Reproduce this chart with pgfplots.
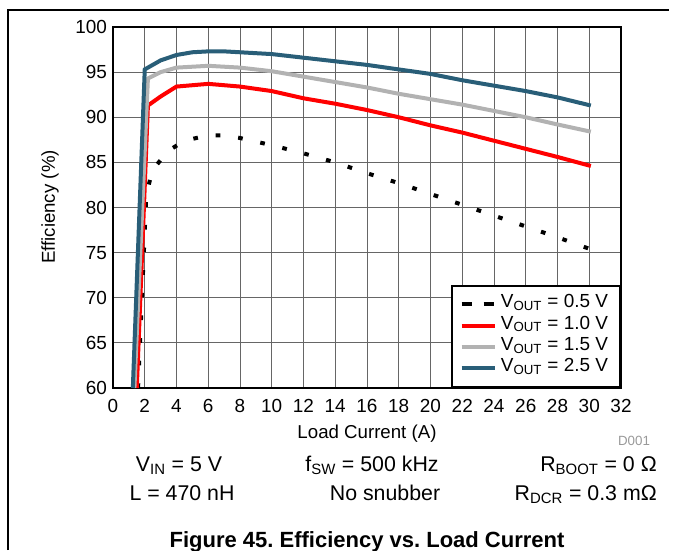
\documentclass[border=0pt]{standalone}
\usepackage{fontspec}
\setmainfont{Liberation Sans}
\usepackage{pgfplots}
\pgfplotsset{compat=1.18}
\definecolor{vblue}{RGB}{41,94,120}
\definecolor{vgray}{RGB}{178,178,178}
\definecolor{vred}{RGB}{255,0,0}
\newcommand{\fs}[1]{\fontsize{#1}{#1}\selectfont}
\frenchspacing
\begin{document}
\begin{tikzpicture}
\begin{axis}[
  at={(0pt,0pt)}, anchor=south west,
  scale only axis, width=381pt, height=270.75pt,
  xmin=0, xmax=32, ymin=60, ymax=100,
  xtick={0,2,...,32}, ytick={60,65,...,100},
  grid=major, major grid style={black!60, line width=0.7pt},
  major tick length=0pt,
  axis line style={line width=2.2pt},
  tick label style={font=\fs{14.2}},
  /pgf/number format/assume math mode=true,
  xticklabel style={yshift=-5pt},
  yticklabel style={xshift=-1pt},
  legend cell align=left,
  legend style={at={(rel axis cs:1,0)}, anchor=south east, draw=black, line width=1.5pt,
    font=\fs{14.2}, inner xsep=6pt, inner ysep=6pt, row sep=0pt,
    nodes={inner xsep=3pt, inner ysep=0pt, text height=10.5pt, text depth=5.5pt}},
]
\addplot[black, line width=3pt, dash pattern=on 3.5pt off 13.5pt,
  legend image code/.code={\draw[black, line width=3pt, dash pattern=on 8pt off 8.5pt] (0pt,0pt) -- (25pt,0pt);}]
  coordinates {(1.58,60) (2.1,81.5) (2.5,84.2) (3.5,86.3) (4.5,87.4) (6,88.0) (7,88.0) (8,87.7) (10,86.9) (12,86.0) (14,85.0) (16,83.8) (18,82.7) (20,81.5) (22,80.3) (24,79.1) (26,77.9) (28,76.7) (30.2,75.3)};
\addlegendentry{V\textsubscript{OUT} = 0.5 V}
\addplot[vred, line width=3pt,
  legend image code/.code={\draw[vred, line width=3pt] (0pt,0pt) -- (25pt,0pt);}]
  coordinates {(1.5,60) (2.2,91.3) (3,92.3) (4,93.4) (6,93.7) (8,93.4) (10,92.9) (12,92.1) (14,91.5) (16,90.8) (18,90.0) (20,89.1) (22,88.3) (24,87.4) (26,86.5) (28,85.6) (30.1,84.6)};
\addlegendentry{V\textsubscript{OUT} = 1.0 V}
\addplot[vgray, line width=3pt,
  legend image code/.code={\draw[vgray, line width=3pt] (0pt,0pt) -- (25pt,0pt);}]
  coordinates {(1.35,60) (2.2,94.3) (3,95.0) (4,95.5) (6,95.7) (8,95.5) (10,95.1) (12,94.5) (14,93.9) (16,93.3) (18,92.6) (20,92.0) (22,91.4) (24,90.7) (26,90.0) (28,89.2) (30.1,88.4)};
\addlegendentry{V\textsubscript{OUT} = 1.5 V}
\addplot[vblue, line width=3pt,
  legend image code/.code={\draw[vblue, line width=3pt] (0pt,0pt) -- (25pt,0pt);}]
  coordinates {(1.25,60) (2.0,95.3) (3.0,96.3) (4.0,96.9) (5,97.2) (6,97.3) (7,97.3) (8,97.2) (10,97.0) (12,96.6) (14,96.2) (16,95.8) (18,95.3) (20,94.8) (22,94.1) (24,93.5) (26,92.9) (28,92.2) (30.1,91.3)};
\addlegendentry{V\textsubscript{OUT} = 2.5 V}
\end{axis}
\begin{scope}[x=0.75pt, y=-0.75pt, shift={(-84.75pt,291pt)}]
  \draw[line width=0.9pt] (8,550) -- (8,10) -- (669,10);
  \node[anchor=base, font=\fs{14}, inner sep=0pt] at (367,438) {Load Current (A)};
  \node[rotate=90, anchor=center, font=\fs{14}, inner sep=0pt] at (50,207) {Efficiency (\%)};
  \node[anchor=base, font=\fs{10}, text=black!40, inner sep=0pt] at (634,445) {D001};
  \node[anchor=base, font=\fs{16}, inner sep=0pt] at (179,471) {V\textsubscript{IN} = 5 V};
  \node[anchor=base, font=\fs{16}, inner sep=0pt] at (372,471) {f\textsubscript{SW} = 500 kHz};
  \node[anchor=base east, font=\fs{16}, inner sep=0pt] at (657,471) {R\textsubscript{BOOT} = 0 Ω};
  \node[anchor=base, font=\fs{16}, inner sep=0pt] at (182,500) {L = 470 nH};
  \node[anchor=base, font=\fs{16}, inner sep=0pt] at (385,500) {No snubber};
  \node[anchor=base east, font=\fs{16}, inner sep=0pt] at (657,500) {R\textsubscript{DCR} = 0.3 mΩ};
  \node[anchor=base, font=\fs{16.5}\bfseries, inner sep=0pt] at (367,547) {Figure 45. Efficiency vs. Load Current};
  \pgfresetboundingbox
  \path (0,0) rectangle (673,550);
\end{scope}
\end{tikzpicture}
\end{document}
